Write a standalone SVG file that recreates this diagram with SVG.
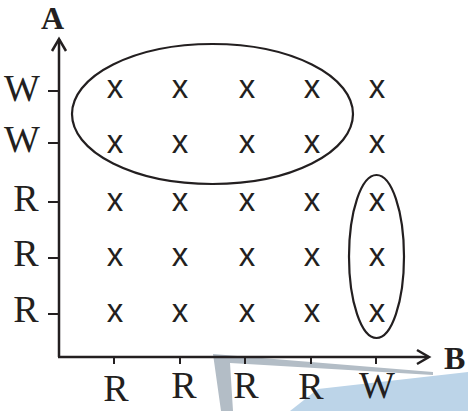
<svg xmlns="http://www.w3.org/2000/svg" width="468" height="411" viewBox="0 0 468 411">
<style>
.lbl{font-family:"Liberation Serif","Times New Roman",serif;font-size:38px;fill:#231f20;text-anchor:middle}
.ax{font-family:"Liberation Serif","Times New Roman",serif;font-size:32px;font-weight:bold;fill:#231f20}
.x{font-family:"Liberation Sans",Arial,sans-serif;font-size:33px;fill:#231f20;text-anchor:middle}
.line{stroke:#231f20;stroke-width:2.5;fill:none}
.tick{stroke:#231f20;stroke-width:2;fill:none}
.ell{stroke:#231f20;stroke-width:2.2;fill:none}
</style>
<rect width="468" height="411" fill="#fff"/>
<g id="watermark">
<polygon points="290,411 318,389 468,372 468,411" fill="#bcd4e8"/>
<polygon points="213,354 433,372 433,375 230,363 233,411 221,411" fill="#b3bdc6"/>
</g>
<g id="connectors">
<path class="line" d="M59,357 V39"/>
<path class="line" d="M52,51 L59,39 L66,51"/>
<path class="line" d="M58,357 H428"/>
<path class="line" d="M417,350 L429,357 L417,364"/>
<g class="tick">
<path d="M48,91 H59 M48,143 H59 M48,202 H59 M48,258 H59 M48,314 H59"/>
<path d="M114,357 V364 M180,357 V364 M245,357 V364 M311,357 V364 M376,357 V364"/>
</g>
</g>
<g id="axis-A"><text class="ax" x="41" y="29">A</text></g>
<g id="axis-B"><text class="ax" x="444" y="369">B</text></g>
<g id="y-labels">
<text class="lbl" x="22" y="101">W</text>
<text class="lbl" x="22" y="152">W</text>
<text class="lbl" x="26" y="211">R</text>
<text class="lbl" x="26" y="266">R</text>
<text class="lbl" x="26" y="322">R</text>
</g>
<g id="x-labels">
<text class="lbl" x="116" y="401">R</text>
<text class="lbl" x="184" y="398">R</text>
<text class="lbl" x="246" y="398">R</text>
<text class="lbl" x="311" y="399">R</text>
<text class="lbl" x="377" y="398">W</text>
</g>
<g id="grid">
<text class="x" x="115" y="98">x</text><text class="x" x="180" y="98">x</text><text class="x" x="247" y="98">x</text><text class="x" x="312" y="98">x</text><text class="x" x="377" y="98">x</text>
<text class="x" x="115" y="153">x</text><text class="x" x="180" y="153">x</text><text class="x" x="247" y="153">x</text><text class="x" x="312" y="153">x</text><text class="x" x="377" y="153">x</text>
<text class="x" x="115" y="211">x</text><text class="x" x="180" y="211">x</text><text class="x" x="247" y="211">x</text><text class="x" x="312" y="211">x</text><text class="x" x="377" y="211">x</text>
<text class="x" x="115" y="266">x</text><text class="x" x="180" y="266">x</text><text class="x" x="247" y="266">x</text><text class="x" x="312" y="266">x</text><text class="x" x="377" y="266">x</text>
<text class="x" x="115" y="322">x</text><text class="x" x="180" y="322">x</text><text class="x" x="247" y="322">x</text><text class="x" x="312" y="322">x</text><text class="x" x="377" y="322">x</text>
</g>
<g id="group-WW"><ellipse class="ell" cx="212.5" cy="114" rx="140.5" ry="70"/></g>
<g id="group-W"><ellipse class="ell" cx="376.5" cy="256.5" rx="27.5" ry="81.5"/></g>
</svg>
